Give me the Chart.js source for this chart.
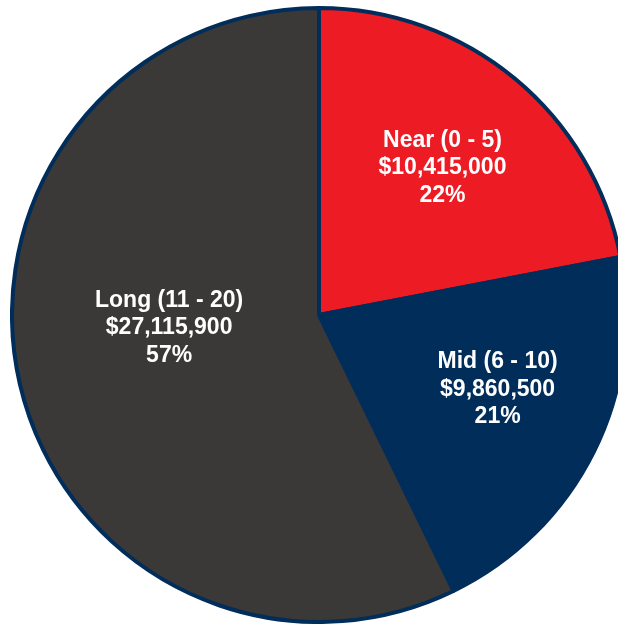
<!DOCTYPE html>
<html lang="en">
<head>
    <meta charset="UTF-8">
    <title>Term Breakdown</title>
    <script src="https://cdn.jsdelivr.net/npm/chart.js"></script>
    <style>
        html, body { margin: 0; padding: 0; background: #fff; overflow: hidden; width: 618px; height: 624px; }
        #wrap { position: absolute; left: 10px; top: 6px; width: 618px; height: 618px; }
    </style>
</head>
<body>
    <div id="wrap"><canvas id="termChart" width="618" height="618"></canvas></div>
    <script>
        const categories = ["Near (0 - 5)", "Mid (6 - 10)", "Long (11 - 20)"];
        const amounts = [10415000, 9860500, 27115900];
        const colors = ["#ED1C24", "#002D5A", "#3B3838"];

        // where each label sits: fraction of the radius, and a small angle nudge (degrees)
        const labelRadius = [0.625, 0.63, 0.49];
        const labelNudge = [0.5, -4, 8];

        const total = amounts.reduce((a, b) => a + b, 0);

        const sliceLabels = {
            id: "sliceLabels",
            afterDatasetsDraw(chart) {
                const ctx = chart.ctx;
                const arcs = chart.getDatasetMeta(0).data;
                ctx.save();
                ctx.fillStyle = "#fff";
                ctx.font = "bold 23px 'Liberation Sans', Arial, sans-serif";
                ctx.textAlign = "center";
                ctx.textBaseline = "middle";
                arcs.forEach((arc, i) => {
                    const mid = (arc.startAngle + arc.endAngle) / 2 + labelNudge[i] * Math.PI / 180;
                    const r = arc.outerRadius * labelRadius[i];
                    const x = arc.x + Math.cos(mid) * r;
                    const y = arc.y + Math.sin(mid) * r;
                    const lines = [
                        categories[i],
                        "$" + amounts[i].toLocaleString("en-US"),
                        Math.round(amounts[i] / total * 100) + "%"
                    ];
                    lines.forEach((t, k) => ctx.fillText(t, x, y + (k - 1) * 27.5));
                });
                ctx.restore();
            }
        };

        new Chart(document.getElementById("termChart"), {
            type: "pie",
            data: {
                labels: categories,
                datasets: [{
                    data: amounts,
                    backgroundColor: colors,
                    borderColor: "#002D5A",
                    borderWidth: 4
                }]
            },
            options: {
                responsive: false,
                animation: false,
                plugins: {
                    legend: { display: false },
                    tooltip: { enabled: false }
                }
            },
            plugins: [sliceLabels]
        });
    </script>
</body>
</html>
